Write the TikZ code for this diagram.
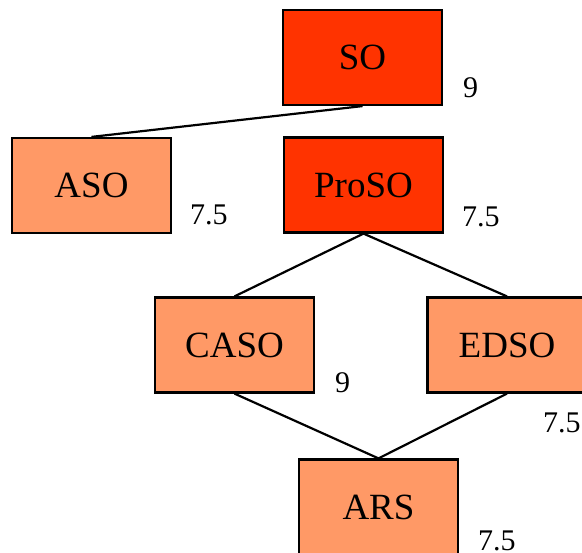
\documentclass[tikz,border=0pt]{standalone}
\usepackage{fontspec}
\setmainfont{Liberation Serif}
\definecolor{hotred}{HTML}{FF3300}
\definecolor{softorange}{HTML}{FF9966}
\begin{document}
\begin{tikzpicture}[x=1pt,y=-1pt,
  box/.style={draw=black, line width=2.2pt, minimum width=159pt, minimum height=95pt,
    inner sep=0pt, font=\fontsize{37}{44}\selectfont},
  hot/.style={box, fill=hotred},
  soft/.style={box, fill=softorange},
  score/.style={anchor=base west, inner sep=0pt, font=\fontsize{30}{36}\selectfont},
  link/.style={line width=2.2pt}]
\useasboundingbox (0,0) rectangle (582,553);
\clip (0,0) rectangle (582,553);
% concept boxes
\node[hot]  (so)    at (362.5,57.5)  {SO};
\node[soft] (aso)   at (91.5,185.5)  {ASO};
\node[hot]  (proso) at (363.5,185)   {ProSO};
\node[soft] (caso)  at (234.5,345)   {CASO};
\node[soft] (edso)  at (507,345)     {EDSO};
\node[soft] (ars)   at (378.5,507)   {ARS};
% scores
\node[score] (sso)    at (463,98)  {9};
\node[score] (saso)   at (190,225) {7.5};
\node[score] (sproso) at (462,227) {7.5};
\node[score] (scaso)  at (335,393) {9};
\node[score] (sedso)  at (543,433) {7.5};
\node[score] (sars)   at (478,551) {7.5};
% links
\draw[link] (so.south) -- (aso.north);
\draw[link] (proso.south) -- (caso.north);
\draw[link] (proso.south) -- (edso.north);
\draw[link] (caso.south) -- (ars.north);
\draw[link] (edso.south) -- (ars.north);
\end{tikzpicture}
\end{document}
